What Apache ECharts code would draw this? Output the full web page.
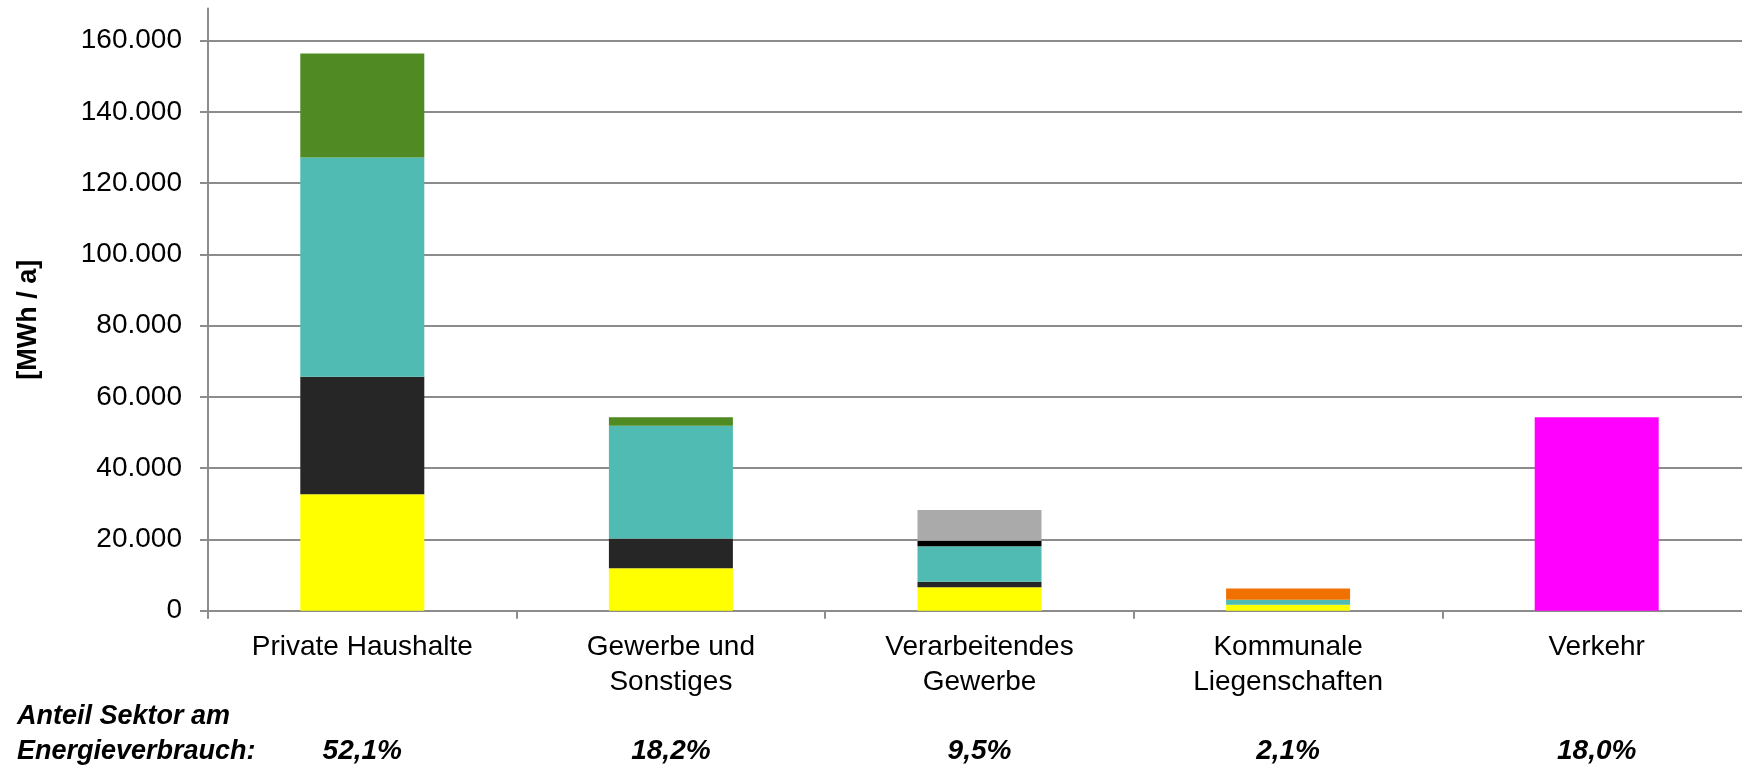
<!DOCTYPE html>
<html>
<head>
<meta charset="utf-8">
<script src="https://cdn.jsdelivr.net/npm/echarts@6/dist/echarts.min.js"></script>
<style>
  html, body { margin: 0; padding: 0; background: #fff; }
  #chart { width: 1742px; height: 768px; }
</style>
</head>
<body>
<div id="chart"></div>
<script>
// ---- data ----
const categories = ['Private Haushalte', 'Gewerbe und\nSonstiges', 'Verarbeitendes\nGewerbe', 'Kommunale\nLiegenschaften', 'Verkehr'];
const shareLabels = ['52,1%', '18,2%', '9,5%', '2,1%', '18,0%'];
const yTicks = [0, 20000, 40000, 60000, 80000, 100000, 120000, 140000, 160000];

const strom       = [32700, 11900, 6600, 1700, 0];
const heizoel     = [33000, 8400, 1500, 0, 0];
const erdgas      = [61500, 31600, 10000, 1400, 0];
const kohle       = [0, 0, 1500, 0, 0];
const sonstige    = [0, 0, 8700, 0, 0];
const erneuerbare = [29200, 2400, 0, 0, 0];
const fernwaerme  = [0, 0, 0, 3100, 0];
const kraftstoffe = [0, 0, 0, 0, 54300];

const seriesDefs = [
  { name: 'Strom', data: strom, color: '#FFFF00' },
  { name: 'Heizöl', data: heizoel, color: '#262626' },
  { name: 'Erdgas', data: erdgas, color: '#4FBBB2' },
  { name: 'Kohle', data: kohle, color: '#000000' },
  { name: 'Sonstige', data: sonstige, color: '#AAAAAA' },
  { name: 'Erneuerbare', data: erneuerbare, color: '#4F8A23' },
  { name: 'Fernwärme', data: fernwaerme, color: '#F07000' },
  { name: 'Kraftstoffe', data: kraftstoffe, color: '#FF00FF' }
];

const FONT = '"Liberation Sans", Arial, sans-serif';
const GRID_COLOR = '#8C8C8C';

function fmt(v) {
  return String(v).replace(/\B(?=(\d{3})+(?!\d))/g, '.');
}

const chart = echarts.init(document.getElementById('chart'), null, { renderer: 'canvas' });

const option = {
  animation: false,
  backgroundColor: '#ffffff',
  textStyle: { fontFamily: FONT },
  title: {
    text: 'Anteil Sektor am\nEnergieverbrauch:',
    left: 12,
    top: 694,
    textStyle: {
      fontFamily: FONT,
      fontSize: 27,
      fontWeight: 'bold',
      fontStyle: 'italic',
      color: '#000',
      lineHeight: 35
    }
  },
  grid: { left: 208, width: 1543, top: 8.6, bottom: 157.3, containLabel: false, outerBoundsMode: 'none' },
  xAxis: [
    {
      type: 'category',
      data: categories,
      position: 'bottom',
      axisLine: { lineStyle: { color: GRID_COLOR, width: 2 } },
      axisTick: { show: true, length: 8, lineStyle: { color: GRID_COLOR, width: 2 } },
      axisLabel: {
        interval: 0,
        margin: 19,
        fontFamily: FONT,
        fontSize: 28,
        lineHeight: 35,
        color: '#000'
      },
      splitLine: { show: false }
    },
    {
      type: 'category',
      data: categories,
      position: 'bottom',
      offset: 111,
      axisLine: { show: false },
      axisTick: { show: false },
      axisLabel: {
        interval: 0,
        margin: 16,
        fontFamily: FONT,
        fontSize: 28,
        fontWeight: 'bold',
        fontStyle: 'italic',
        color: '#000',
        formatter: function (v, i) { return shareLabels[i]; }
      }
    }
  ],
  yAxis: {
    type: 'value',
    min: 0,
    max: 169000,
    interval: 20000,
    name: '[MWh / a]',
    nameLocation: 'middle',
    nameRotate: 90,
    nameGap: 166,
    nameTextStyle: {
      fontFamily: FONT,
      fontSize: 27,
      fontWeight: 'bold',
      color: '#000',
      padding: [0, 20, 0, 0]
    },
    axisLine: { show: true, lineStyle: { color: GRID_COLOR, width: 2 } },
    axisTick: { show: true, length: 8, customValues: yTicks, lineStyle: { color: GRID_COLOR, width: 2 } },
    axisLabel: {
      margin: 26,
      fontFamily: FONT,
      fontSize: 28,
      color: '#000',
      customValues: yTicks,
      formatter: fmt
    },
    splitLine: { show: true, lineStyle: { color: GRID_COLOR, width: 2 } }
  },
  series: seriesDefs.map(function (s) {
    return {
      name: s.name,
      type: 'bar',
      stack: 'total',
      xAxisIndex: 0,
      barWidth: 124,
      data: s.data,
      itemStyle: { color: s.color },
      emphasis: { disabled: true }
    };
  })
};

chart.setOption(option);
</script>
</body>
</html>
